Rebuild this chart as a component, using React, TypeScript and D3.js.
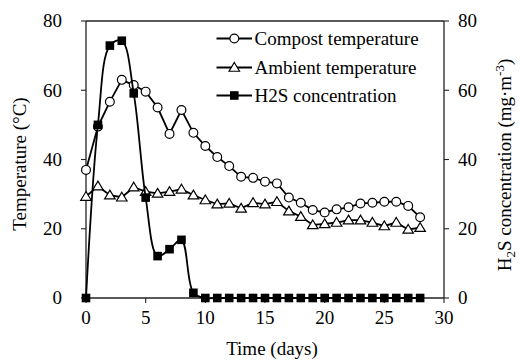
import React from "react";
import * as d3 from "d3";

const days = d3.range(0, 29);
const compost = [37, 49.5, 56.7, 63, 61.5, 59.6, 55, 47.4, 54.3, 47.7, 43.9, 40.7, 38.1, 35, 34.7, 33.6, 33.1, 29, 27.5, 25.4, 24.7, 25.6, 26.2, 27.3, 27.5, 27.8, 27.8, 26.6, 23.3];
const ambient = [29.3, 32.3, 29.7, 29.1, 32, 30.7, 30.2, 30.7, 31.4, 29.7, 28.3, 27.1, 27.3, 25.9, 27.5, 27.1, 27.8, 25.1, 23.5, 21.1, 21.4, 21.8, 22.5, 22.5, 21.8, 20.8, 21.8, 19.8, 20.3];
const h2s = [0, 50, 72.9, 74.3, 59.1, 29, 12.1, 14.1, 16.8, 1.5, 0, 0, 0, 0, 0, 0, 0, 0, 0, 0, 0, 0, 0, 0, 0, 0, 0, 0, 0];
const xTicks = [0, 5, 10, 15, 20, 25, 30];
const yTicks = [0, 20, 40, 60, 80];
const legendLabels = ["Compost temperature", "Ambient temperature", "H2S concentration"];

const W = 520, H = 361;
const L = 86, R = 444, T = 21, B = 298;
const FONT = "'Liberation Serif', 'Times New Roman', serif";
const FS = 19;

function Marker({ kind, x, y }: { kind: string; x: number; y: number }) {
  if (kind === "circle") return <circle cx={x} cy={y} r={4.4} fill="#fff" stroke="#000" strokeWidth={1.2} />;
  if (kind === "triangle") {
    const s = 5;
    return <path d={`M${x},${y - s}L${x + s * 1.05},${y + s * 0.75}L${x - s * 1.05},${y + s * 0.75}Z`} fill="#fff" stroke="#000" strokeWidth={1.2} />;
  }
  return <rect x={x - 4.3} y={y - 4.3} width={8.6} height={8.6} fill="#000" />;
}

export default function App() {
  const x = d3.scaleLinear().domain([0, 30]).range([L, R]);
  const y = d3.scaleLinear().domain([0, 80]).range([B, T]);
  const yR = d3.scaleLinear().domain([0, 80]).range([B, T]);

  const straight = d3.line<number>().x((_, i) => x(days[i])).y((d) => y(d));
  const smooth = d3.line<number>().x((_, i) => x(days[i])).y((d) => yR(d)).curve(d3.curveCatmullRom.alpha(0.5));

  const series = [
    { data: compost, kind: "circle", path: straight(compost), scale: y },
    { data: ambient, kind: "triangle", path: straight(ambient), scale: y },
    { data: h2s, kind: "square", path: smooth(h2s), scale: yR },
  ];

  const legendY = [38.5, 67.5, 95.5];

  return (
    <svg width={W} height={H} style={{ position: "absolute", left: 0, top: 0, background: "#fff" }} fontFamily={FONT}>
      <rect width={W} height={H} fill="#fff" />
      {/* frame */}
      <line x1={L} x2={R} y1={T} y2={T} stroke="#222" strokeWidth={1.3} />
      <line x1={L} x2={R} y1={B} y2={B} stroke="#222" strokeWidth={1.3} />
      <line x1={L} x2={L} y1={T} y2={B} stroke="#222" strokeWidth={1.3} />
      <line x1={R} x2={R} y1={T} y2={B} stroke="#222" strokeWidth={1.3} />
      {/* x ticks */}
      {xTicks.map((t) => (
        <g key={"x" + t}>
          <line x1={x(t)} x2={x(t)} y1={B} y2={B + 5} stroke="#222" strokeWidth={1.1} />
          <text x={x(t)} y={B + 26} textAnchor="middle" fontSize={FS}>{t}</text>
        </g>
      ))}
      {/* left ticks */}
      {yTicks.map((t) => (
        <g key={"yl" + t}>
          <line x1={L - 5} x2={L} y1={y(t)} y2={y(t)} stroke="#222" strokeWidth={1.1} />
          <text x={62} y={y(t)} dy="0.34em" textAnchor="end" fontSize={FS}>{t}</text>
        </g>
      ))}
      {/* right ticks */}
      {yTicks.map((t) => (
        <g key={"yr" + t}>
          <line x1={R} x2={R + 5} y1={yR(t)} y2={yR(t)} stroke="#222" strokeWidth={1.1} />
          <text x={458} y={yR(t)} dy="0.34em" textAnchor="start" fontSize={FS}>{t}</text>
        </g>
      ))}
      {/* axis titles */}
      <text x={(L + R) / 2 + 7} y={355} textAnchor="middle" fontSize={FS}>Time (days)</text>
      <text transform={`translate(26,164) rotate(-90)`} textAnchor="middle" fontSize={FS}>Temperature (°C)</text>
      <text transform={`translate(511,165) rotate(-90)`} textAnchor="middle" fontSize={FS}>
        H<tspan fontSize={13} dy={4}>2</tspan><tspan dy={-4}>S concentration (mg·m</tspan><tspan fontSize={13} dy={-7}>-3</tspan><tspan dy={7}>)</tspan>
      </text>
      {/* series */}
      {series.map((s, si) => (
        <g key={"s" + si}>
          <path d={s.path || ""} fill="none" stroke="#000" strokeWidth={1.8} />
          {s.data.map((v, i) => (
            <Marker key={i} kind={s.kind} x={x(days[i])} y={s.scale(v)} />
          ))}
        </g>
      ))}
      {/* legend */}
      {legendLabels.map((lab, i) => (
        <g key={"lg" + i}>
          <line x1={216.5} x2={252} y1={legendY[i]} y2={legendY[i]} stroke="#000" strokeWidth={1.8} />
          <Marker kind={series[i].kind} x={234.3} y={legendY[i]} />
          <text x={254.5} y={legendY[i]} dy="0.34em" fontSize={FS}>{lab}</text>
        </g>
      ))}
    </svg>
  );
}
